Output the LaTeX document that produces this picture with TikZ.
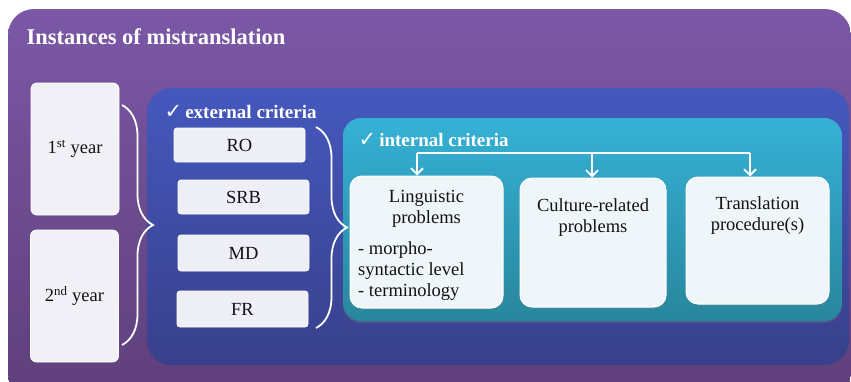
\documentclass[tikz,border=0pt]{standalone}
\usepackage{fontspec}
\setmainfont{Liberation Serif}
\newfontfamily\symfont{DejaVu Sans}
\usetikzlibrary{arrows.meta,decorations.pathreplacing,shadows}
\definecolor{purpletop}{RGB}{123,88,166}
\definecolor{purplebot}{RGB}{94,63,122}
\definecolor{bluetop}{RGB}{69,88,190}
\definecolor{bluebot}{RGB}{56,64,138}
\definecolor{tealtop}{RGB}{54,177,214}
\definecolor{tealbot}{RGB}{40,134,156}
\definecolor{yearfill}{RGB}{242,240,247}
\definecolor{extfill}{RGB}{237,238,246}
\definecolor{intfill}{RGB}{238,246,249}
\definecolor{inktext}{RGB}{20,16,20}
\newcommand{\tick}{{\symfont\bfseries\fontsize{21}{21}\selectfont ✓}}

\begin{document}
\begin{tikzpicture}[x=1pt, y=-1pt,
    every node/.style={font=\fontsize{18.5}{21}\selectfont, text=inktext},
    yearbox/.style={draw=white, line width=0.8pt, fill=yearfill, rounded corners=6pt, minimum width=88pt, minimum height=132pt},
    extbox/.style={draw=white, line width=0.8pt, fill=extfill, rounded corners=3pt, minimum width=131pt, minimum height=35pt},
    intbox/.style={draw=white, line width=1pt, fill=intfill, rounded corners=12pt, drop shadow={opacity=0.2, shadow xshift=1pt, shadow yshift=-2pt}},
    heading/.style={font=\fontsize{19}{22}\selectfont\bfseries, text=white, anchor=base west},
    brace/.style={draw=white, line width=1.8pt, decorate, decoration={brace, amplitude=31pt}},
    conn/.style={draw=white, line width=1.8pt}]
    \clip (0,0) rectangle (851,381);
    % panels
    \path[top color=purpletop, bottom color=purplebot, rounded corners=26pt] (8,9) rectangle (851,400);
    \path[top color=bluetop, bottom color=bluebot, rounded corners=25pt] (147,88) rectangle (849,365);
    \path[top color=tealtop, bottom color=tealbot, rounded corners=18pt, drop shadow={opacity=0.3, shadow xshift=0pt, shadow yshift=-2pt}] (343,118) rectangle (842,321);
    \node[heading, font=\fontsize{22.5}{26}\selectfont\bfseries] (title) at (23,44) {Instances of mistranslation};
    % years
    \node[yearbox] (y1) at (75,149) {1\textsuperscript{st} year};
    \node[yearbox] (y2) at (74.5,296) {2\textsuperscript{nd} year};
    \draw[brace] (122,105) -- (122,345);
    % external criteria
    \node[heading, xshift=-2pt] (extlabel) at (163,118) {\tick\,external criteria};
    \node[extbox, minimum height=34pt] (ro) at (239.5,145) {RO};
    \node[extbox, minimum height=34pt] (srb) at (243.5,197) {SRB};
    \node[extbox, minimum height=36pt] (md) at (243.5,253) {MD};
    \node[extbox, minimum height=36pt] (fr) at (242.5,309) {FR};
    \draw[brace] (316,127) -- (316,328);
    % internal criteria
    \node[heading, xshift=-2pt] (intlabel) at (357,146) {\tick\,internal criteria};
    \node[intbox, minimum width=153pt, minimum height=132pt] (ling) at (426.5,242) {};
    \node[intbox, minimum width=146pt, minimum height=129pt] (cult) at (593,242.5) {};
    \node[intbox, minimum width=143pt, minimum height=127pt] (trans) at (757.5,240.5) {};
    \node[align=center, anchor=north] (lingtxt) at (426.5,187) {Linguistic\\problems};
    \node[align=left, anchor=north west, inner xsep=0pt] (lingsub) at (358,238) {- morpho-\\syntactic level};
    \node[anchor=north west, inner xsep=0pt] (lingterm) at (358,280) {- terminology};
    \node[align=center, anchor=north] (culttxt) at (593,195) {Culture-related\\problems};
    \node[align=center, anchor=north] (transtxt) at (757.5,193) {Translation\\procedure(s)};
    % connectors
    \coordinate (a1) at (417,153);
    \coordinate (a2) at (592,153);
    \coordinate (a3) at (750,153);
    \draw[conn] (a1) -- (a3);
    \draw[conn,-{Straight Barb[length=6pt,width=12pt]}] (a1) -- (a1 |- ling.north);
    \draw[conn,-{Straight Barb[length=6pt,width=12pt]}] (a2) -- (a2 |- cult.north);
    \draw[conn,-{Straight Barb[length=6pt,width=12pt]}] (a3) -- (a3 |- trans.north);
\end{tikzpicture}
\end{document}
